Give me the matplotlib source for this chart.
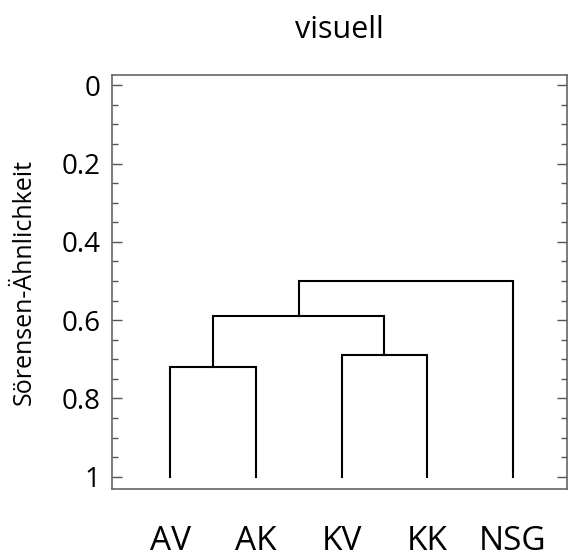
import numpy as np
import matplotlib
matplotlib.use("Agg")
import matplotlib.pyplot as plt
from matplotlib.ticker import MultipleLocator

plt.rcParams['font.family'] = ['Open Sans', 'DejaVu Sans']

# leaf order and cluster merges (left, right, height) of the dendrogram
LEAVES = ["AV", "AK", "KV", "KK", "NSG"]
MERGES = [
    (0, 1, 0.72),   # AV + AK
    (2, 3, 0.69),   # KV + KK
    (5, 6, 0.59),   # (AV,AK) + (KV,KK)
    (7, 4, 0.50),   # ... + NSG
]
LEAF_LEVEL = 1.0


def draw_dendrogram(ax, leaves, merges):
    xpos = {i: float(i + 1) for i in range(len(leaves))}
    ypos = {i: LEAF_LEVEL for i in range(len(leaves))}
    node = len(leaves)
    for a, b, h in merges:
        xa, xb = xpos[a], xpos[b]
        ax.plot([xa, xa, xb, xb], [ypos[a], h, h, ypos[b]],
                color="black", lw=1.5, solid_joinstyle="miter")
        xpos[node] = (xa + xb) / 2
        ypos[node] = h
        node += 1


fig = plt.figure(figsize=(5.68, 5.60), dpi=100)
ax = fig.add_axes([0.197, 0.127, 0.801, 0.739])

draw_dendrogram(ax, LEAVES, MERGES)

ax.set_xlim(0.32, 5.63)
ax.set_ylim(1.031, -0.026)
ax.set_xticks(np.arange(1, len(LEAVES) + 1))
ax.set_xticklabels(LEAVES, fontsize=24)
ax.set_yticks([0, 0.2, 0.4, 0.6, 0.8, 1.0])
ax.set_yticklabels(["0", "0.2", "0.4", "0.6", "0.8", "1"], fontsize=20)
ax.yaxis.set_minor_locator(MultipleLocator(0.05))

ax.tick_params(axis="x", length=0, pad=26)
ax.tick_params(axis="y", which="major", direction="in", length=7,
               width=1, color="#555555", right=True, pad=8)
ax.tick_params(axis="y", which="minor", direction="in", length=4,
               width=1, color="#555555", right=True)

for sp in ax.spines.values():
    sp.set_color("#666666")
    sp.set_linewidth(1.2)

ax.set_ylabel("Sörensen-Ähnlichkeit", fontsize=18, labelpad=18)
ax.set_title("visuell", fontsize=22, pad=27)

fig.savefig("out.png", dpi=100)
